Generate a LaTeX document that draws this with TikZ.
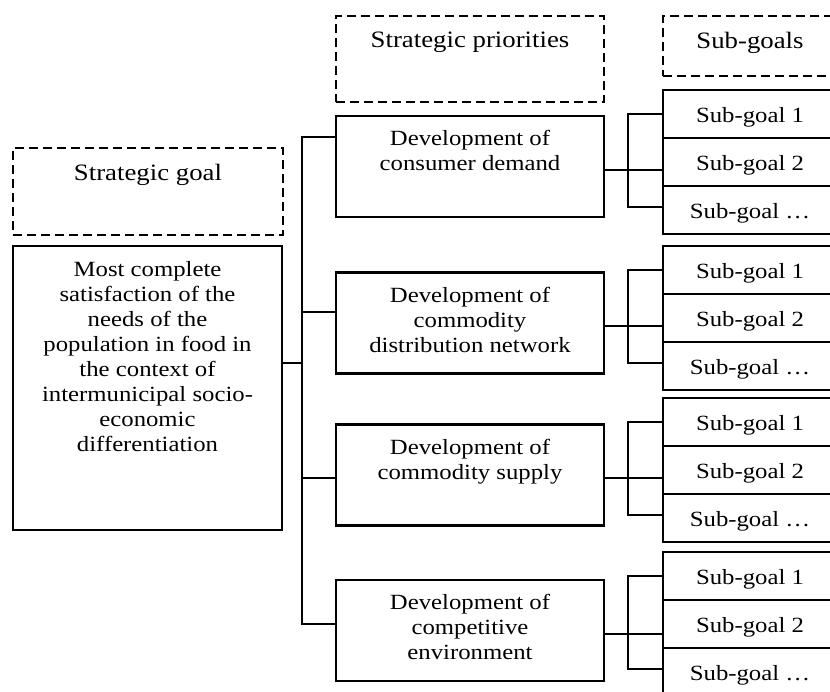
\documentclass[tikz,border=0pt]{standalone}
\usepackage{fontspec}
\setmainfont{Liberation Serif}[FakeStretch=1.14]
\usepackage{tikz}
\usetikzlibrary{positioning}

\begin{document}
\begin{tikzpicture}[x=1pt, y=-1pt,
		box/.style={draw, line width=2.6pt, inner sep=0pt},
		headbox/.style={draw, line width=2.6pt, dash pattern=on 9pt off 5pt, inner sep=0pt},
		prio/.style={box, minimum width=268, minimum height=101},
		subbox/.style={box, minimum width=174, minimum height=48, text height=17pt, text depth=1pt, font=\fontsize{21.7}{25}\selectfont},
		txt/.style={align=center, inner sep=0pt, font=\fontsize{21.7}{25}\selectfont},
		headtxt/.style={inner sep=0pt, font=\fontsize{23.5}{27}\selectfont},
		link/.style={line width=2pt}]
				\useasboundingbox (0, 0) rectangle (830, 691);
				\clip (0, 0) rectangle (830, 691);

				\node (GoalHead) [headbox, minimum width=270, minimum height=87] at (148, 191.5) {};
				\node (GoalHeadText) [headtxt, below=17.5pt of GoalHead.north] {Strategic goal};
				\node (Goal) [box, minimum width=269, minimum height=284] at (147.5, 388) {};
				\node (GoalText) [txt, below=16.5pt of Goal.north] {Most complete\\satisfaction of the\\needs of the\\population in food in\\the context of\\intermunicipal socio-\\economic\\differentiation};

				\node (PrioHead) [headbox, minimum width=268, minimum height=86] at (470, 59) {};
				\node (PrioHeadText) [headtxt, below=17.5pt of PrioHead.north] {Strategic priorities};
				\node (P1) [prio] at (470, 166.5) {};
				\node (P1Text) [txt, below=15.5pt of P1.north] {Development of\\consumer demand};
				\node (P2) [prio] at (470, 323) {};
				\node (P2Text) [txt, below=15.5pt of P2.north] {Development of\\commodity\\distribution network};
				\node (P3) [prio] at (470, 475) {};
				\node (P3Text) [txt, below=15.5pt of P3.north] {Development of\\commodity supply};
				\node (P4) [prio] at (470, 630.5) {};
				\node (P4Text) [txt, below=15.5pt of P4.north] {Development of\\competitive\\environment};

				\node (SubHead) [headbox, minimum width=174, minimum height=60] at (750, 46) {};
				\node (SubHeadText) [headtxt, below=17.5pt of SubHead.north] {Sub-goals};
				\foreach \g/\t in {1/90, 2/246, 3/398, 4/552} {
					\node (S\g1) [subbox] at (750, \t+24) {Sub-goal 1};
					\node (S\g2) [subbox] at (750, \t+72) {Sub-goal 2};
					\node (S\g3) [subbox] at (750, \t+120) {Sub-goal …};
				}

				\coordinate (Tap1) at (302, 137);
				\coordinate (Tap2) at (302, 312);
				\coordinate (Tap3) at (302, 478);
				\coordinate (Tap4) at (302, 624);
				\coordinate (Fork) at (302, 363);
				\draw[link] (Tap1 -| P1.west) -- (Tap1) -- (Tap4) -- (Tap4 -| P4.west);
				\draw[link] (Tap2) -- (Tap2 -| P2.west);
				\draw[link] (Tap3) -- (Tap3 -| P3.west);
				\draw[link] (Fork -| Goal.east) -- (Fork);

				\foreach \g in {1, ..., 4} {
					\draw[link] ([yshift=-3pt]P\g.east) -- ([yshift=-3pt]P\g.east -| S\g2.west);
					\draw[link] (S\g1.west) -- ++(-34, 0) |- ([yshift=3pt]S\g3.west);
				}
			\end{tikzpicture}
\end{document}
